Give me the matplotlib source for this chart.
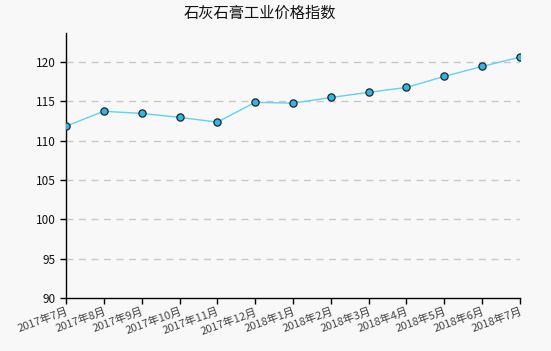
import matplotlib
matplotlib.use("Agg")
import matplotlib.pyplot as plt

plt.rcParams['font.family'] = ['Noto Sans CJK SC', 'DejaVu Sans']

months = ["2017年7月", "2017年8月", "2017年9月", "2017年10月", "2017年11月", "2017年12月",
          "2018年1月", "2018年2月", "2018年3月", "2018年4月", "2018年5月", "2018年6月", "2018年7月"]
values = [111.85, 113.75, 113.47, 112.97, 112.37, 114.88,
          114.78, 115.5, 116.15, 116.78, 118.18, 119.45, 120.64]
yticks = [90, 95, 100, 105, 110, 115, 120]

fig = plt.figure(figsize=(5.51, 3.51), dpi=100, facecolor="#f8f8f8")
ax = fig.add_axes([66/551, 1-298/351, (520-66)/551, (298-33)/351])
ax.set_facecolor("#f8f8f8")

x = list(range(len(months)))
ax.plot(x, values, color="#5fd3f5", lw=1, zorder=3)
ax.plot(x, values, 'o', ms=5.2, mfc="#2bb8e8", mec="#222222", mew=0.9, zorder=4)

ax.set_xlim(0, len(months)-1)
ax.set_ylim(90, 123.7)
ax.set_yticks(yticks)
ax.set_yticklabels([str(v) for v in yticks], fontsize=8.5, color="#111111")
ax.set_xticks(x)
ax.set_xticklabels(months, rotation=20, ha="right", rotation_mode="anchor",
                   fontsize=8, color="#444444")
ax.tick_params(axis="both", direction="out", length=4, width=1, color="#000000")
ax.tick_params(axis="x", pad=2)

for v in yticks[1:]:
    ax.axhline(v, color="#c8c8c8", lw=1, ls=(0, (5, 4)), zorder=1)

for s in ["top", "right"]:
    ax.spines[s].set_visible(False)
for s in ["left", "bottom"]:
    ax.spines[s].set_linewidth(1)
    ax.spines[s].set_color("#000000")

fig.text(260/551, 1-13/351, "石灰石膏工业价格指数", ha="center", va="center", fontsize=11, color="#111111")

fig.savefig("out.png", dpi=100, facecolor=fig.get_facecolor())
